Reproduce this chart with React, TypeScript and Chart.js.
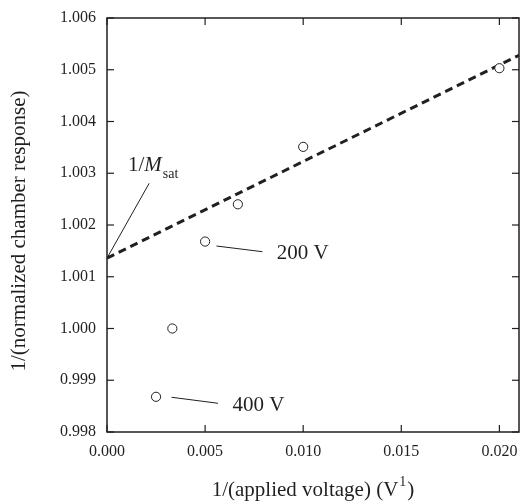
import { useEffect, useRef } from "react";
import { Chart, registerables } from "chart.js";

Chart.register(...registerables);

// Measured data: 1/(applied voltage) vs 1/(normalized chamber response)
const inverseVoltage = [0.0025, 0.00333, 0.005, 0.00667, 0.01, 0.02];
const inverseResponse = [0.99868, 1.0, 1.00168, 1.0024, 1.00351, 1.00503];

// Linear fit (dashed) endpoints
const fitX = [0, 0.021];
const fitY = [1.00136, 1.00528];

// Axis ranges and ticks
const xTickValues = [0, 0.005, 0.01, 0.015, 0.02];
const yTickValues = [0.998, 0.999, 1.0, 1.001, 1.002, 1.003, 1.004, 1.005, 1.006];
const xRange = [0, 0.021];
const yRange = [0.998, 1.006];

// Text
const xTitle = "1/(applied voltage) (V";
const xTitleSup = "1";
const yTitle = "1/(normalized chamber response)";
const labelHigh = "200 V";
const labelLow = "400 V";

const INK = "#231f20";
const SERIF = "'Liberation Serif', 'Times New Roman', serif";

const decorations = {
  id: "decorations",
  afterDraw(chart: any) {
    const { ctx, chartArea: a, scales } = chart;
    const x = scales.x;
    const y = scales.y;
    const px = (v: number) => x.getPixelForValue(v);
    const py = (v: number) => y.getPixelForValue(v);
    const line = (x1: number, y1: number, x2: number, y2: number) => {
      ctx.beginPath();
      ctx.moveTo(x1, y1);
      ctx.lineTo(x2, y2);
      ctx.stroke();
    };
    ctx.save();
    ctx.strokeStyle = INK;
    ctx.fillStyle = INK;
    // frame
    ctx.lineWidth = 1.5;
    ctx.strokeRect(a.left, a.top, a.right - a.left, a.bottom - a.top);
    // inward ticks
    ctx.lineWidth = 1.2;
    const tl = 7;
    xTickValues.forEach((v) => {
      const p = px(v);
      line(p, a.bottom, p, a.bottom - tl);
      line(p, a.top, p, a.top + tl);
    });
    yTickValues.forEach((v) => {
      const p = py(v);
      line(a.left, p, a.left + tl, p);
      line(a.right, p, a.right - tl, p);
    });

    // leader lines
    ctx.lineWidth = 1;
    line(px(0.00215), py(1.002806), px(0.0), py(1.00136));
    line(px(0.00558), py(1.001594), px(0.00792), py(1.001484));
    line(px(0.00329), py(0.998671), px(0.00566), py(0.998555));

    // annotation text
    ctx.font = `21px ${SERIF}`;
    ctx.textAlign = "left";
    ctx.textBaseline = "middle";
    ctx.fillText(labelHigh, px(0.00865), py(1.001459));
    ctx.fillText(labelLow, px(0.0064), py(0.998508));

    // 1/M_sat
    ctx.textBaseline = "alphabetic";
    let tx = px(0.00107);
    const ty = py(1.003043);
    ctx.font = `21px ${SERIF}`;
    ctx.fillText("1/", tx, ty);
    tx += ctx.measureText("1/").width;
    ctx.font = `italic 21px ${SERIF}`;
    ctx.fillText("M", tx, ty);
    tx += ctx.measureText("M").width + 1;
    ctx.font = `14px ${SERIF}`;
    ctx.fillText("sat", tx, ty + 7);

    // axis titles
    const cx = (a.left + a.right) / 2;
    ctx.font = `21px ${SERIF}`;
    const w1 = ctx.measureText(xTitle).width;
    ctx.font = `14px ${SERIF}`;
    const w2 = ctx.measureText(xTitleSup).width + 2;
    ctx.font = `21px ${SERIF}`;
    const w3 = ctx.measureText(")").width;
    let sx = cx - (w1 + w2 + w3) / 2;
    const by = 496;
    ctx.fillText(xTitle, sx, by);
    sx += w1 + 1;
    ctx.font = `14px ${SERIF}`;
    ctx.fillText(xTitleSup, sx, by - 10);
    sx += w2 - 1;
    ctx.font = `21px ${SERIF}`;
    ctx.fillText(")", sx, by);

    ctx.save();
    ctx.translate(19, (a.top + a.bottom) / 2 + 6);
    ctx.rotate(-Math.PI / 2);
    ctx.textAlign = "center";
    ctx.textBaseline = "middle";
    ctx.fillText(yTitle, 0, 0);
    ctx.restore();

    ctx.restore();
  },
};

export default function App() {
  const ref = useRef<HTMLCanvasElement | null>(null);
  useEffect(() => {
    if (!ref.current) return;
    const points = inverseVoltage.map((v, i) => ({ x: v, y: inverseResponse[i] }));
    const fit = fitX.map((v, i) => ({ x: v, y: fitY[i] }));
    const chart = new Chart(ref.current, {
      type: "scatter",
      data: {
        datasets: [
          {
            data: points,
            pointRadius: 4.6,
            pointBorderWidth: 1,
            pointBackgroundColor: "#ffffff",
            pointBorderColor: INK,
            showLine: false,
          } as any,
          {
            type: "line",
            data: fit,
            borderColor: INK,
            borderWidth: 3,
            borderDash: [8, 5],
            pointRadius: 0,
            fill: false,
            tension: 0,
          } as any,
        ],
      },
      options: {
        responsive: false,
        animation: false,
        devicePixelRatio: 1,
        layout: { autoPadding: false, padding: { top: 18, right: 1, left: 0, bottom: 0 } },
        plugins: { legend: { display: false }, tooltip: { enabled: false } },
        scales: {
          x: {
            type: "linear",
            min: xRange[0],
            max: xRange[1],
            grid: { display: false, drawTicks: false },
            border: { display: false },
            afterBuildTicks: (s: any) => {
              s.ticks = xTickValues.map((v) => ({ value: v }));
            },
            afterFit: (s: any) => {
              s.height = 72;
              s.paddingLeft = 0;
              s.paddingRight = 0;
            },
            ticks: {
              padding: 10,
              color: INK,
              font: { family: SERIF, size: 16 },
              maxRotation: 0,
              autoSkip: false,
              callback: (v: any) => Number(v).toFixed(3),
            },
          },
          y: {
            type: "linear",
            min: yRange[0],
            max: yRange[1],
            grid: { display: false, drawTicks: false },
            border: { display: false },
            afterBuildTicks: (s: any) => {
              s.ticks = yTickValues.map((v) => ({ value: v }));
            },
            afterFit: (s: any) => {
              s.width = 107;
              s.paddingTop = 0;
              s.paddingBottom = 0;
            },
            ticks: {
              padding: 11,
              color: INK,
              font: { family: SERIF, size: 16 },
              autoSkip: false,
              callback: (v: any) => Number(v).toFixed(3),
            },
          },
        },
      },
      plugins: [decorations],
    });
    return () => chart.destroy();
  }, []);
  return (
    <div style={{ position: "fixed", left: 0, top: 0, width: 520, height: 504, background: "#fff" }}>
      <canvas ref={ref} width={520} height={504} />
    </div>
  );
}
